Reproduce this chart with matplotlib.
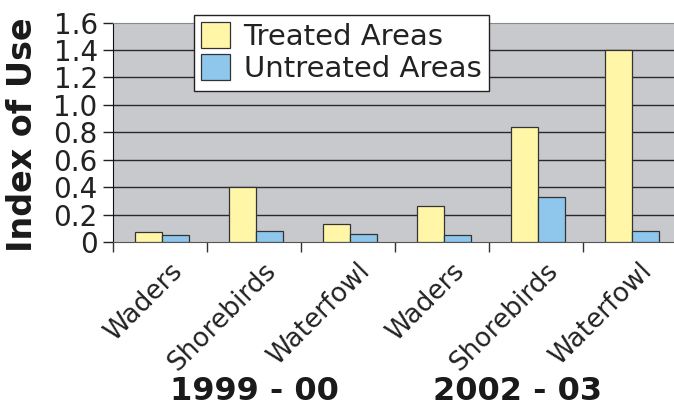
import numpy as np
import matplotlib
matplotlib.use("Agg")
import matplotlib.pyplot as plt
import matplotlib.transforms as mtransforms

# data
birds = ["Waders", "Shorebirds", "Waterfowl", "Waders", "Shorebirds", "Waterfowl"]
treated = [0.07, 0.40, 0.13, 0.26, 0.84, 1.40]
untreated = [0.05, 0.08, 0.06, 0.05, 0.33, 0.08]
seasons = ["1999 - 00", "2002 - 03"]
season_x = [1.0, 3.8]
yticks = [0, 0.2, 0.4, 0.6, 0.8, 1.0, 1.2, 1.4, 1.6]
ytick_labels = ["0", "0.2", "0.4", "0.6", "0.8", "1.0", "1.2", "1.4", "1.6"]

plt.rcParams['font.family'] = ['DejaVu Sans']

fig = plt.figure(figsize=(6.74, 4.07), dpi=100)
ax = fig.add_axes([113 / 674, 1 - 242 / 407, 564 / 674, 219.5 / 407])
ax.set_facecolor('#c8c9cd')

x = np.arange(len(birds))
w = 0.29
ax.bar(x - w / 2 + 0.02, treated, w, color='#fff6a8', edgecolor='#333333',
       linewidth=0.9, label='Treated Areas', zorder=3)
ax.bar(x + w / 2 + 0.02, untreated, w, color='#8fc6ec', edgecolor='#333333',
       linewidth=0.9, label='Untreated Areas', zorder=3)

ax.set_xlim(-0.5, len(birds) - 0.5)
ax.set_ylim(0, 1.6)

# gridlines
for yy in yticks[1:-1]:
    ax.axhline(yy, color='#2a2a2a', linewidth=1.0, zorder=1)

ax.set_yticks(yticks)
ax.set_yticklabels(ytick_labels, fontsize=20, color='#222222')
ax.tick_params(axis='y', direction='out', length=7, width=1, color='#222222', pad=4)

ax.set_xticks(x)
ax.set_xticklabels([])
ax.tick_params(axis='x', length=0)
ax.set_xticks(np.arange(len(birds) + 1) - 0.5, minor=True)
ax.tick_params(axis='x', which='minor', direction='out', length=7, width=1, color='#333333')

ax.spines['left'].set_color('#111111')
ax.spines['bottom'].set_color('#555555')
ax.spines['top'].set_color('#8a8a8a')
ax.spines['right'].set_visible(False)

# rotated category labels
offset = mtransforms.ScaledTranslation(9 / 100, -16 / 100, fig.dpi_scale_trans)
for xi, name in zip(x, birds):
    ax.text(xi, 0, name, rotation=45, rotation_mode='anchor', ha='right', va='top',
            fontsize=19, color='#222222',
            transform=ax.get_xaxis_transform() + offset)

# season labels
for sx, s in zip(season_x, seasons):
    ax.text(sx, 15 / 407, s, fontsize=23, fontweight='bold', ha='center', va='center',
            color='#1a1a1a', transform=mtransforms.blended_transform_factory(ax.transData, fig.transFigure))

fig.text(23 / 674, 1 - 135 / 407, "Index of Use", rotation=90, fontsize=24,
         fontweight='bold', ha='center', va='center', color='#1a1a1a')

leg = fig.legend(loc='upper left', bbox_to_anchor=(194 / 674, 1 - 15 / 407),
                 fontsize=21, frameon=True, fancybox=False, framealpha=1,
                 edgecolor='#222222', handlelength=1.0, handleheight=1.0,
                 handletextpad=0.45, labelspacing=0.1, borderpad=0.25,
                 borderaxespad=0)
leg.get_frame().set_linewidth(1.0)
for t in leg.get_texts():
    t.set_color('#222222')

fig.savefig("out.png", dpi=100)
